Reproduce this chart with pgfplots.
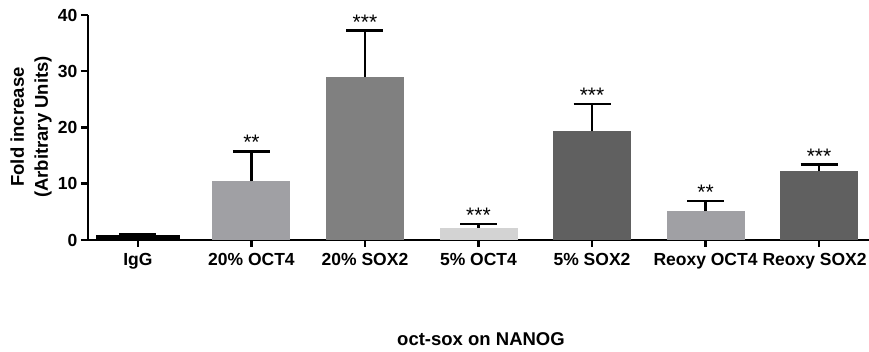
\documentclass[border=0pt]{standalone}
\usepackage{pgfplots}
\pgfplotsset{compat=1.18}
\usepackage{fontspec}
\setmainfont{Liberation Sans}
\definecolor{cIgG}{RGB}{0,0,0}
\definecolor{cA}{RGB}{160,160,164}
\definecolor{cB}{RGB}{128,128,128}
\definecolor{cC}{RGB}{211,211,211}
\definecolor{cD}{RGB}{96,96,96}
\begin{document}
\begin{tikzpicture}
\path[use as bounding box] (-88pt,-112pt) rectangle (781pt,240pt);
\begin{axis}[
  at={(0pt,0pt)}, anchor=south west,
  scale only axis, width=781pt, height=225pt,
  xmin=-0.44, xmax=6.44, ymin=0, ymax=40,
  axis x line*=bottom, axis y line*=left,
  axis line style={line width=2.5pt, black},
  xtick={0,1,2,3,4,5,6},
  xticklabels={IgG,20\% OCT4,20\% SOX2,5\% OCT4,5\% SOX2,Reoxy OCT4,Reoxy SOX2\hspace*{9pt}},
  ytick={0,10,20,30,40},
  tick align=outside, major tick length=7pt,
  tick style={line width=2.5pt, black},
  ticklabel style={font=\bfseries\fontsize{17.5}{21}\selectfont},
  xticklabel style={yshift=-3pt},
  /pgf/number format/assume math mode=true,
  ybar, bar width=78pt,
  clip=false,
  error bars/y dir=plus, error bars/y explicit,
  error bars/error bar style={line width=2.5pt, black},
  error bars/error mark options={rotate=90, mark size=18.5pt, line width=2.5pt, black},
]
\addplot[fill=cIgG, draw=none, bar shift=0pt, bar width=84pt] coordinates {(0,0.95) +- (0,0.15)};
\addplot[fill=cA, draw=none, bar shift=0pt] coordinates {(1,10.4) +- (0,5.37)};
\addplot[fill=cB, draw=none, bar shift=0pt] coordinates {(2,29.0) +- (0,8.2)};
\addplot[fill=cC, draw=none, bar shift=0pt] coordinates {(3,2.2) +- (0,0.6)};
\addplot[fill=cD, draw=none, bar shift=0pt] coordinates {(4,19.3) +- (0,4.9)};
\addplot[fill=cA, draw=none, bar shift=0pt] coordinates {(5,5.1) +- (0,1.8)};
\addplot[fill=cD, draw=none, bar shift=0pt] coordinates {(6,12.2) +- (0,1.2)};
\begin{scope}[every node/.style={anchor=base, inner sep=0pt, font=\fontsize{21}{21}\selectfont, yshift=1.5pt}]
\node at (axis cs:1,15.77) {**};
\node at (axis cs:2,37.2) {***};
\node at (axis cs:3,2.8) {***};
\node at (axis cs:4,24.2) {***};
\node at (axis cs:5,6.9) {**};
\node at (axis cs:6,13.4) {***};
\end{scope}
\end{axis}
\node[rotate=90, align=center, font=\bfseries\fontsize{18.5}{24}\selectfont] at (-57pt,113pt) {Fold increase\\(Arbitrary Units)};
\node[anchor=base, font=\bfseries\fontsize{18.5}{22}\selectfont] at (393pt,-106pt) {oct-sox on NANOG};
\end{tikzpicture}
\end{document}
